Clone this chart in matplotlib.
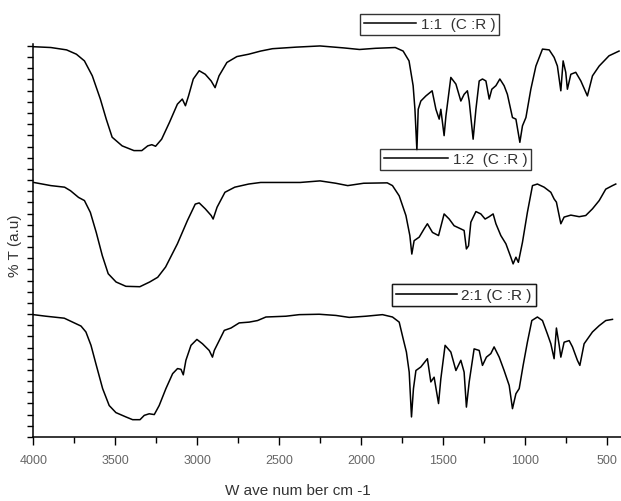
import numpy as np
import matplotlib
matplotlib.use('Agg')
import matplotlib.pyplot as plt

plt.rcParams['font.family'] = ['Liberation Sans', 'DejaVu Sans']

# FTIR spectra (wavenumber cm-1, %T in a.u. with offsets)
wn_11 = [3997, 3893, 3797, 3737, 3688, 3640, 3591, 3555, 3519, 3458, 3386, 3338, 3302, 3277,
         3254, 3217, 3169, 3121, 3091, 3072, 3053, 3024, 2988, 2951, 2915, 2891, 2867, 2819,
         2758, 2686, 2613, 2541, 2396, 2251, 2106, 2010, 1913, 1792, 1744, 1708, 1683, 1672,
         1660, 1652, 1636, 1605, 1567, 1544, 1524, 1514, 1494, 1483, 1453, 1422, 1392, 1372,
         1352, 1341, 1317, 1300, 1280, 1260, 1239, 1219, 1203, 1178, 1154, 1128, 1108, 1077,
         1056, 1032, 1016, 995, 965, 934, 894, 853, 823, 803, 782, 768, 752, 742, 721, 691,
         660, 620, 589, 548, 488, 427]
t_11 = [98.6, 98.4, 97.8, 96.7, 95.0, 91.2, 85.3, 80.2, 75.6, 73.4, 72.2, 72.2, 73.4, 73.7,
        73.3, 75.1, 79.4, 84.0, 85.3, 83.6, 86.1, 90.4, 92.5, 91.6, 89.9, 88.2, 91.2, 94.6,
        96.1, 96.7, 97.5, 98.1, 98.5, 98.8, 98.3, 97.9, 98.2, 98.4, 97.5, 95.0, 88.7, 82.7,
        72.2, 82.7, 84.8, 86.1, 87.4, 82.7, 80.2, 82.7, 76.0, 81.0, 90.8, 89.1, 84.8, 86.5,
        87.4, 84.8, 75.1, 82.7, 89.9, 90.4, 89.9, 85.3, 87.8, 88.7, 90.4, 88.7, 86.5, 80.6,
        80.2, 74.3, 78.5, 80.6, 87.8, 93.7, 98.0, 97.8, 95.9, 93.7, 87.4, 95.0, 92.1, 87.8,
        91.6, 92.1, 89.9, 86.1, 91.2, 93.7, 96.3, 97.5]

wn_12 = [3997, 3893, 3809, 3773, 3724, 3688, 3652, 3616, 3579, 3543, 3495, 3435, 3350, 3290,
         3241, 3193, 3121, 3060, 3012, 2988, 2951, 2915, 2903, 2879, 2831, 2771, 2686, 2613,
         2517, 2372, 2251, 2155, 2082, 1985, 1841, 1809, 1768, 1727, 1703, 1691, 1677, 1646,
         1616, 1596, 1565, 1528, 1494, 1463, 1433, 1392, 1372, 1358, 1345, 1331, 1300, 1270,
         1244, 1219, 1195, 1178, 1148, 1117, 1087, 1073, 1056, 1041, 1016, 986, 955, 925, 884,
         843, 823, 809, 782, 762, 721, 670, 630, 589, 548, 508, 467, 447]
t_12 = [64.1, 63.3, 62.9, 62.0, 60.3, 59.5, 56.5, 51.4, 45.5, 40.9, 38.8, 37.7, 37.6, 38.8,
        40.0, 42.6, 48.5, 54.4, 58.6, 58.9, 57.4, 55.7, 54.8, 57.8, 61.6, 62.9, 63.7, 64.1,
        64.1, 64.1, 64.5, 63.9, 63.3, 63.9, 64.0, 63.3, 60.7, 55.7, 50.6, 45.9, 49.3, 50.2,
        52.3, 53.6, 51.4, 50.6, 56.1, 54.8, 53.1, 52.3, 51.9, 47.2, 48.0, 54.0, 56.7, 56.1,
        54.8, 55.4, 56.1, 53.6, 50.6, 48.5, 45.1, 43.4, 45.1, 43.8, 48.9, 56.5, 63.3, 63.7, 62.9,
        61.6, 59.9, 59.1, 53.6, 55.3, 55.8, 55.4, 55.7, 57.4, 59.5, 62.4, 63.3, 63.7]

wn_21 = [4000, 3923, 3811, 3760, 3709, 3679, 3648, 3618, 3577, 3537, 3496, 3435, 3394, 3349,
         3323, 3293, 3262, 3232, 3191, 3150, 3120, 3099, 3085, 3069, 3038, 3002, 2968, 2927,
         2907, 2896, 2866, 2835, 2794, 2744, 2683, 2632, 2581, 2459, 2378, 2256, 2154, 2073,
         1971, 1870, 1809, 1768, 1744, 1724, 1707, 1693, 1681, 1666, 1636, 1596, 1575, 1555,
         1528, 1514, 1488, 1453, 1422, 1392, 1372, 1358, 1341, 1311, 1280, 1260, 1236, 1209,
         1189, 1158, 1128, 1097, 1077, 1056, 1036, 1012, 986, 959, 925, 894, 864, 843, 823,
         809, 792, 782, 762, 731, 711, 681, 666, 640, 589, 548, 508, 467]
t_21 = [30.5, 30.1, 29.6, 28.6, 27.6, 26.1, 22.7, 18.0, 11.7, 7.4, 5.6, 4.5, 3.8, 3.8,
        4.9, 5.3, 5.1, 7.4, 11.7, 15.5, 16.8, 16.6, 15.2, 18.9, 22.7, 24.2, 23.1, 21.4,
        19.7, 21.4, 23.9, 26.5, 27.1, 28.4, 28.6, 29.0, 29.9, 30.1, 30.5, 30.6, 30.3, 29.8,
        30.1, 30.5, 29.9, 28.6, 24.4, 21.0, 15.9, 4.5, 11.7, 16.3, 17.2, 19.3, 13.4, 14.6,
        7.9, 14.2, 22.7, 21.0, 16.3, 18.9, 15.9, 7.0, 13.4, 21.8, 21.4, 17.6, 19.7, 20.6,
        22.3, 19.7, 16.3, 12.5, 6.6, 10.4, 11.7, 17.6, 23.5, 29.0, 29.9, 29.0, 25.6, 23.1, 19.3,
        27.1, 22.7, 19.7, 23.5, 23.9, 22.3, 18.9, 17.6, 23.1, 26.1, 27.7, 29.0, 29.3]

names = ['1:1  (C :R )', '1:2  (C :R )', '2:1 (C :R )']

fig = plt.figure(figsize=(6.21, 5.02), dpi=100)
ax = fig.add_axes([0.0536, 0.1275, 0.9464, 0.7829])

l1, = ax.plot(wn_11, t_11, color='black', lw=1.1)
l2, = ax.plot(wn_12, t_12, color='black', lw=1.1)
l3, = ax.plot(wn_21, t_21, color='black', lw=1.1)

ax.set_xlim(4000, 415)
ax.set_ylim(-0.6, 99.3)
ax.set_xticks(np.arange(4000, 499, -500))
ax.set_xticks(np.arange(3750, 400, -500), minor=True)
ax.set_yticks(np.linspace(-0.6, 98.8, 36))
ax.set_yticklabels([])
ax.tick_params(axis='x', which='major', direction='out', length=6, width=1,
               labelsize=9, labelcolor='#666666', pad=6)
ax.tick_params(axis='x', which='minor', direction='out', length=4, width=1)
ax.tick_params(axis='y', direction='out', length=4, width=1)
for s in ['top', 'right']:
    ax.spines[s].set_visible(False)
for s in ['left', 'bottom']:
    ax.spines[s].set_linewidth(1.1)

ax.set_xlabel('W ave num ber cm -1', fontsize=11, color='#333333')
ax.xaxis.set_label_coords(0.45, -0.117)
ax.set_ylabel('% T (a.u)', fontsize=11, color='#333333')
ax.yaxis.set_label_coords(-0.019, 0.49)

# one boxed legend per spectrum
spots = [(0.580, 0.971), (0.612, 0.702), (0.631, 0.432)]
hlen = [3.4, 4.2, 4.0]
for line, name, (bx, by), hl in zip([l1, l2, l3], names, spots, hlen):
    lg = ax.legend([line], [name], loc='upper left', bbox_to_anchor=(bx, by),
                   bbox_transform=fig.transFigure, borderaxespad=0, fancybox=False,
                   frameon=True, fontsize=11, handlelength=hl, handletextpad=0.3,
                   borderpad=0.25)
    lg.get_frame().set_edgecolor('black')
    lg.get_frame().set_linewidth(1.0)
    for t in lg.get_texts():
        t.set_color('#333333')
    ax.add_artist(lg)

fig.savefig('out.png', dpi=100)
